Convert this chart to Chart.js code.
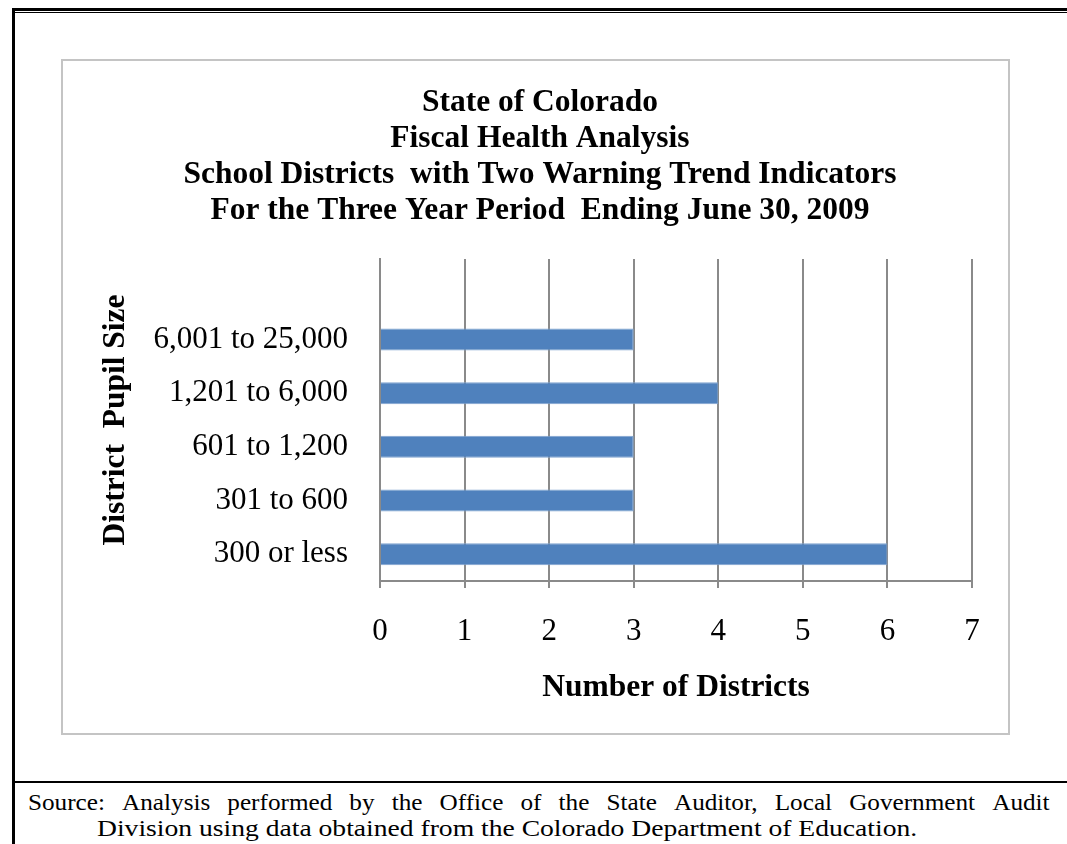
<!DOCTYPE html>
<html>
<head>
<meta charset="utf-8">
<script src="https://cdn.jsdelivr.net/npm/chart.js@4.4.0/dist/chart.umd.min.js"></script>
<style>
  body { margin: 0; background: #fff; width: 1067px; height: 844px; position: relative; overflow: hidden;
         font-family: "Liberation Serif", "Times New Roman", serif; color: #000; }
  .rule { position: absolute; background: #000; }
  #chartBox { position: absolute; left: 61px; top: 59px; width: 945px; height: 672px; border: 2px solid #c4c4c4; }
  #chartBox canvas { display: block; }
  .src { position: absolute; font-size: 24px; line-height: 26px; white-space: nowrap; transform-origin: 0 0; }
  #srcLine1 { left: 28px; width: 973px; display: flex; justify-content: space-between; transform: scaleX(1.05); }
  #srcLine2 { left: 97px; transform: scaleX(1.15); }
</style>
</head>
<body>
<div class="rule" style="left:12px; top:8px; width:1055px; height:3px;"></div>
<div class="rule" style="left:15px; top:12px; width:1052px; height:1px;"></div>
<div class="rule" style="left:12px; top:8px; width:3px; height:836px;"></div>
<div class="rule" style="left:12px; top:781px; width:1055px; height:2px;"></div>

<div id="chartBox"><canvas id="districtChart" width="945" height="672"></canvas></div>

<div class="src" id="srcLine1" style="top:789px;"></div>
<div class="src" id="srcLine2" style="top:815px;">Division using data obtained from the Colorado Department of Education.</div>

<script>
// data
var categories = ["", "6,001 to 25,000", "1,201 to 6,000", "601 to 1,200", "301 to 600", "300 or less"];
var districtCounts = [null, 3, 4, 3, 3, 6];
var xTickValues = [0, 1, 2, 3, 4, 5, 6, 7];
var titleLines = [
    "State of Colorado",
    "Fiscal Health Analysis",
    "School Districts  with Two Warning Trend Indicators",
    "For the Three Year Period  Ending June 30, 2009"
];

// first source line is justified across the full width, one span per word
var sourceLine1 = "Source: Analysis performed by the Office of the State Auditor, Local Government Audit";
sourceLine1.split(" ").forEach(function(word) {
    var s = document.createElement("span");
    s.textContent = word;
    document.getElementById("srcLine1").appendChild(s);
});

var serif = "'Liberation Serif', 'Times New Roman', serif";
var gridGray = "#8a8a8a";

new Chart("districtChart", {
    type: "bar",
    data: {
        labels: categories,
        datasets: [{
            label: "Number of Districts",
            data: districtCounts,
            backgroundColor: "#4F81BD",
            borderColor: "#7FA3D0",
            borderWidth: 1,
            categoryPercentage: 1,
            barPercentage: 0.41
        }]
    },
    options: {
        indexAxis: "y",
        responsive: false,
        animation: false,
        layout: {
            // left padding pushes the title centre a little right of the canvas middle
            padding: { left: 45, right: 36, top: 0, bottom: 0 }
        },
        plugins: {
            legend: { display: false },
            tooltip: { enabled: false },
            title: {
                display: true,
                text: titleLines,
                color: "#000",
                font: { family: serif, size: 31.5, weight: "bold", lineHeight: 1.143 },
                padding: { top: 24, bottom: 30 }
            }
        },
        scales: {
            x: {
                min: xTickValues[0],
                max: xTickValues[xTickValues.length - 1],
                ticks: {
                    stepSize: 1,
                    color: "#000",
                    padding: 25,
                    font: { family: serif, size: 31 }
                },
                grid: { color: gridGray, lineWidth: 2, tickLength: 7, drawTicks: true },
                border: { color: gridGray, width: 2 },
                title: {
                    display: true,
                    text: "Number of Districts",
                    color: "#000",
                    font: { family: serif, size: 31.5, weight: "bold", lineHeight: 1.2 },
                    padding: { top: 0, bottom: 26 }
                },
                afterFit: function(scale) { scale.height = 152; }
            },
            y: {
                ticks: {
                    color: "#000",
                    padding: 32,
                    font: { family: serif, size: 31 }
                },
                grid: { display: false, drawTicks: false },
                border: { color: gridGray, width: 2 },
                title: {
                    display: true,
                    text: "District  Pupil Size",
                    color: "#000",
                    font: { family: serif, size: 31.5, weight: "bold", lineHeight: 1.2 },
                    padding: { top: -11, bottom: 0 }
                },
                afterFit: function(scale) { scale.width = 272; }
            }
        }
    }
});
</script>
</body>
</html>
